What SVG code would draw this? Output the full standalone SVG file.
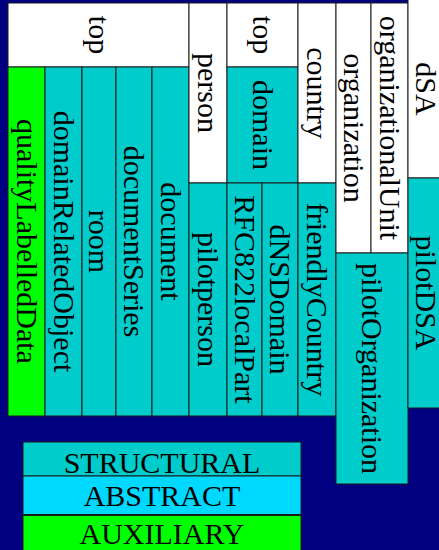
<svg xmlns="http://www.w3.org/2000/svg" width="439" height="550" viewBox="0 0 439 550">
<style>
.c{stroke:#1a1a1a;stroke-width:1}
.w{fill:#ffffff}
.s{fill:#00cccc}
.a{fill:#00d9ff}
.x{fill:#00ff00}
text{font-family:"Liberation Serif","Times New Roman",serif;font-size:30px;fill:#000;text-anchor:middle}
</style>
<rect x="0" y="0" width="439" height="550" fill="#000080"/>
<g id="top1"><rect class="c w" x="8" y="3" width="181" height="64"/><text transform="translate(98.5,35) rotate(90)" y="10">top</text></g>
<g id="qualityLabelledData"><rect class="c x" x="8" y="67" width="37" height="349"/><text transform="translate(26.5,241.5) rotate(90)" y="10">qualityLabelledData</text></g>
<g id="domainRelatedObject"><rect class="c s" x="45" y="67" width="37" height="349"/><text transform="translate(63.5,241.5) rotate(90)" y="10">domainRelatedObject</text></g>
<g id="room"><rect class="c s" x="82" y="67" width="34" height="349"/><text transform="translate(99,241.5) rotate(90)" y="10">room</text></g>
<g id="documentSeries"><rect class="c s" x="116" y="67" width="36" height="349"/><text transform="translate(134,241.5) rotate(90)" y="10">documentSeries</text></g>
<g id="document"><rect class="c s" x="152" y="67" width="37" height="349"/><text transform="translate(170.5,241.5) rotate(90)" y="10">document</text></g>
<g id="person"><rect class="c w" x="189" y="3" width="38" height="180"/><text transform="translate(208,93) rotate(90)" y="10">person</text></g>
<g id="pilotperson"><rect class="c s" x="189" y="183" width="38" height="233"/><text transform="translate(208,299.5) rotate(90)" y="10">pilotperson</text></g>
<g id="top2"><rect class="c w" x="227" y="3" width="71" height="64"/><text transform="translate(262.5,35) rotate(90)" y="10">top</text></g>
<g id="domain"><rect class="c s" x="227" y="67" width="71" height="116"/><text transform="translate(262.5,125) rotate(90)" y="10">domain</text></g>
<g id="country"><rect class="c w" x="298" y="3" width="38" height="180"/><text transform="translate(317,93) rotate(90)" y="10">country</text></g>
<g id="RFC822localPart"><rect class="c s" x="227" y="183" width="35" height="233"/><text transform="translate(244.5,299.5) rotate(90)" y="10">RFC822localPart</text></g>
<g id="dNSDomain"><rect class="c s" x="262" y="183" width="36" height="233"/><text transform="translate(280,299.5) rotate(90)" y="10">dNSDomain</text></g>
<g id="friendlyCountry"><rect class="c s" x="298" y="183" width="38" height="233"/><text transform="translate(317,299.5) rotate(90)" y="10">friendlyCountry</text></g>
<g id="organization"><rect class="c w" x="336" y="3" width="35" height="250"/><text transform="translate(353.5,128) rotate(90)" y="10">organization</text></g>
<g id="organizationalUnit"><rect class="c w" x="371" y="3" width="37" height="250"/><text transform="translate(389.5,128) rotate(90)" y="10">organizationalUnit</text></g>
<g id="pilotOrganization"><rect class="c s" x="336" y="253" width="72" height="231"/><text transform="translate(372,368.5) rotate(90)" y="10">pilotOrganization</text></g>
<g id="dSA"><rect class="c w" x="408" y="-1" width="36" height="179"/><text transform="translate(425.5,89) rotate(90)" y="10">dSA</text></g>
<g id="pilotDSA"><rect class="c s" x="408" y="178" width="36" height="230"/><text transform="translate(425.5,293) rotate(90)" y="10">pilotDSA</text></g>
<g id="legend-structural"><rect class="c s" x="23" y="442" width="278" height="34"/><text x="162" y="472.5">STRUCTURAL</text></g>
<g id="legend-abstract"><rect class="c a" x="23" y="476" width="278" height="38.5"/><text x="162" y="506">ABSTRACT</text></g>
<g id="legend-auxiliary"><rect class="c x" x="23" y="515.5" width="278" height="40"/><text x="162" y="544">AUXILIARY</text></g>
<g id="connectors"></g>
</svg>
